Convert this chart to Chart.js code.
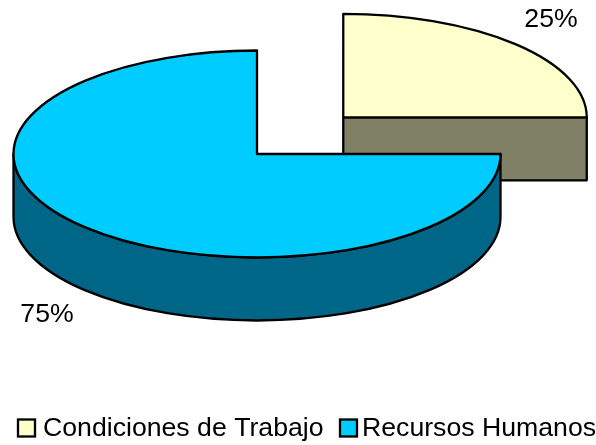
<!DOCTYPE html>
<html><head><meta charset="utf-8">
<style>html,body{margin:0;padding:0;background:#fff}#w{width:596px;height:445px;position:relative}</style>
<script src="https://cdn.jsdelivr.net/npm/chart.js@4"></script>
</head><body><div id="w"><canvas id="c"></canvas></div>
<script>
const categories = ['Condiciones de Trabajo', 'Recursos Humanos'];
const shares = [25, 75];
const topColors = ['#FFFFCC', '#00CCFF'];
const sideColors = ['#808066', '#006688'];
const explode = [122, 0];
const FONT = '26.67px "Liberation Sans", Arial, sans-serif';
const squash = 0.425, depth = 63, lineW = 2.3;
const labelPos = [[551, 20], [47, 315]];
const legendPos = [[18, 43], [340, 362]], legendY = 428, legendTextY = 429, legendBox = 17;

const pie3d = {
  id: 'pie3d',
  beforeDatasetDraw(chart, args) {
    const ctx = chart.ctx;
    const arcs = chart.getDatasetMeta(args.index).data;
    ctx.save();
    ctx.lineWidth = lineW; ctx.strokeStyle = '#000'; ctx.lineJoin = 'round';
    arcs.forEach((arc, i) => {
      const s = arc.startAngle, e = arc.endAngle, r = arc.outerRadius, ry = r * squash;
      const mid = (s + e) / 2, off = arc.options.offset || 0;
      const cx = arc.x + Math.cos(mid) * off, cy = arc.y + Math.sin(mid) * off * squash;
      const px = a => cx + Math.cos(a) * r, py = a => cy + Math.sin(a) * ry;
      // side wall: curved front part
      const a0 = Math.max(s, 0), a1 = Math.min(e, Math.PI);
      ctx.fillStyle = sideColors[i];
      if (a1 > a0) {
        ctx.beginPath();
        ctx.ellipse(cx, cy, r, ry, 0, a0, a1);
        ctx.lineTo(px(a1), py(a1) + depth);
        ctx.ellipse(cx, cy + depth, r, ry, 0, a1, a0, true);
        ctx.closePath(); ctx.fill(); ctx.stroke();
      }
      // cut face towards the viewer
      if (Math.abs(e) < 1e-6) {
        ctx.beginPath();
        ctx.moveTo(cx, cy); ctx.lineTo(px(e), py(e));
        ctx.lineTo(px(e), py(e) + depth); ctx.lineTo(cx, cy + depth);
        ctx.closePath(); ctx.fill(); ctx.stroke();
      }
      // top face
      ctx.fillStyle = topColors[i];
      ctx.beginPath();
      ctx.moveTo(cx, cy);
      ctx.ellipse(cx, cy, r, ry, 0, s, e);
      ctx.closePath(); ctx.fill(); ctx.stroke();
    });
    ctx.restore();
    return false;
  },
  afterDraw(chart) {
    const ctx = chart.ctx;
    ctx.save();
    ctx.font = FONT; ctx.fillStyle = '#000'; ctx.textBaseline = 'middle';
    ctx.textAlign = 'center';
    shares.forEach((v, i) => ctx.fillText(v + '%', labelPos[i][0], labelPos[i][1]));
    ctx.textAlign = 'left';
    categories.forEach((name, i) => {
      const [bx, tx] = legendPos[i];
      ctx.fillStyle = topColors[i]; ctx.strokeStyle = '#000'; ctx.lineWidth = lineW;
      ctx.fillRect(bx, legendY - legendBox / 2, legendBox, legendBox);
      ctx.strokeRect(bx, legendY - legendBox / 2, legendBox, legendBox);
      ctx.fillStyle = '#000';
      ctx.fillText(name, tx, legendTextY);
    });
    ctx.restore();
  }
};

new Chart(document.getElementById('c'), {
  type: 'pie',
  data: { labels: categories, datasets: [{ data: shares, backgroundColor: topColors, borderColor: '#000', borderWidth: 0, offset: explode }] },
  options: {
    responsive: true, maintainAspectRatio: false, animation: false,
    radius: 243.5,
    layout: { padding: { left: 13, right: 95, top: 0, bottom: 137 } },
    plugins: { legend: { display: false }, tooltip: { enabled: false } }
  },
  plugins: [pie3d]
});
</script></body></html>
